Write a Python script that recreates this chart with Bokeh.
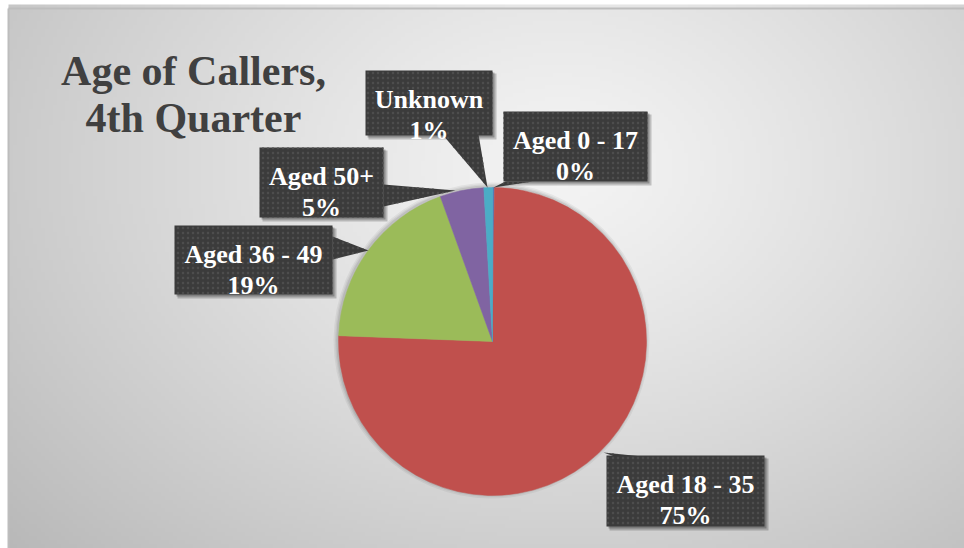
import numpy as np
from bokeh.plotting import figure
from bokeh.models import Range1d, ColumnDataSource
from bokeh.core.properties import value
from bokeh.embed import file_html
from bokeh.resources import INLINE

# ---- data ----
categories = ["Aged 0 - 17", "Aged 18 - 35", "Aged 36 - 49", "Aged 50+", "Unknown"]
shares = [0.2, 75.4, 18.9, 4.6, 0.9]
colors = ["#4F81BD", "#C0504D", "#9BBB59", "#8064A2", "#4BACC6"]
title_lines = ["Age of Callers,", "4th Quarter"]

# ---- layout (pixels, from top-left) ----
W, H = 964, 548
CX, CY, R = 492, 341, 154
SERIF = value("Liberation Serif")
# label boxes: left, top, right, bottom
boxes = [
    (503, 111, 647, 181),
    (606, 455, 764, 526),
    (174, 225, 332, 294),
    (259, 147, 383, 217),
    (365, 70, 492, 135),
]
# callout pointers (polygons in px)
pointers = [
    [(493, 187), (505, 181), (532, 181)],
    [(603, 452), (614, 456), (642, 456)],
    [(332, 236), (368, 250), (332, 259)],
    [(383, 184), (455, 190), (383, 206)],
    [(442, 134), (487, 187), (478, 134)],
]


def Y(py):
    return H - py


p = figure(width=W, height=H, x_range=Range1d(0, W), y_range=Range1d(0, H),
           output_backend="svg", toolbar_location=None, min_border=0,
           x_axis_location=None, y_axis_location=None)
p.grid.visible = False
p.outline_line_color = None
p.background_fill_color = "white"
p.border_fill_color = "white"

# background radial gradient
ds = 4
gx0, gy0 = 8, 8
nx, ny = (W - gx0) // ds + 1, (H - gy0) // ds + 1
xs = gx0 + np.arange(nx) * ds
ys = H - np.arange(ny) * ds  # row 0 at bottom
XX, YY = np.meshgrid(xs, ys)
d = np.sqrt(((XX - 560) / 560.0) ** 2 + ((YY - 170) / 420.0) ** 2)
c = np.clip(244 - 42 * d ** 1.2, 0, 255).astype(np.uint32)
img = (255 << 24) | (c << 16) | (c << 8) | c
p.image_rgba(image=[img.astype(np.uint32)], x=gx0, y=0, dw=nx * ds, dh=ny * ds)

# frame edges (top, left)
p.segment(x0=[8, 8], y0=[Y(8), Y(8)], x1=[W, 8], y1=[Y(8), 0],
          line_color="#bdbdbd", line_width=2)

# soft pie shadow
for k, a in [(4, 0.05), (2.5, 0.06), (1.2, 0.08)]:
    p.circle(x=[CX - 1], y=[Y(CY - 1)], radius=R + k, fill_color="black",
             fill_alpha=a, line_color=None)

# pie
total = float(sum(shares))
cum = np.concatenate([[0.0], np.cumsum(shares)]) / total * 2 * np.pi
src = ColumnDataSource(dict(
    start=list(np.pi / 2 - cum[1:]),
    end=list(np.pi / 2 - cum[:-1]),
    color=colors,
    cat=categories,
))
p.wedge(x=CX, y=Y(CY), radius=R, start_angle="start", end_angle="end",
        fill_color="color", line_color="color", line_width=0.5, source=src)

# label shadows
p.quad(left=[b[0] + 3 for b in boxes], right=[b[2] + 4 for b in boxes],
       top=[Y(b[1] + 3) for b in boxes], bottom=[Y(b[3] + 4) for b in boxes],
       fill_color="black", fill_alpha=0.2, line_color=None)
p.quad(left=[b[0] + 2 for b in boxes], right=[b[2] + 2 for b in boxes],
       top=[Y(b[1] + 2) for b in boxes], bottom=[Y(b[3] + 2) for b in boxes],
       fill_color="black", fill_alpha=0.25, line_color=None)

# pointers
p.patches(xs=[[pt[0] for pt in poly] for poly in pointers],
          ys=[[Y(pt[1]) for pt in poly] for poly in pointers],
          fill_color="#3b3b3b", line_color=None,
          hatch_pattern="dot", hatch_color="#4d4d4d", hatch_scale=5, hatch_weight=0.6)

# label boxes
p.quad(left=[b[0] for b in boxes], right=[b[2] for b in boxes],
       top=[Y(b[1]) for b in boxes], bottom=[Y(b[3]) for b in boxes],
       fill_color="#3b3b3b", line_color=None,
       hatch_pattern="dot", hatch_color="#4d4d4d", hatch_scale=5, hatch_weight=0.6)

# label texts
pct = ["%d%%" % int(s / total * 100 + 0.5) for s in shares]
lx, ly, lt = [], [], []
for b, cat, pc in zip(boxes, categories, pct):
    mx = (b[0] + b[2]) / 2.0
    lx += [mx, mx]
    ly += [Y(b[1] + 29), Y(b[1] + 59.5)]
    lt += [cat, pc]
p.text(x=lx, y=ly, text=lt, text_font=SERIF,
       text_font_style="bold", text_font_size="26px", text_color="white",
       text_align="center", text_baseline="alphabetic")

# title
p.text(x=[193, 193], y=[Y(70), Y(117)], text=title_lines,
       text_font=SERIF, text_font_style="bold",
       text_font_size="42px", text_color="#404040",
       text_align="center", text_baseline="alphabetic")

open("out.html", "w").write(file_html(p, INLINE))
